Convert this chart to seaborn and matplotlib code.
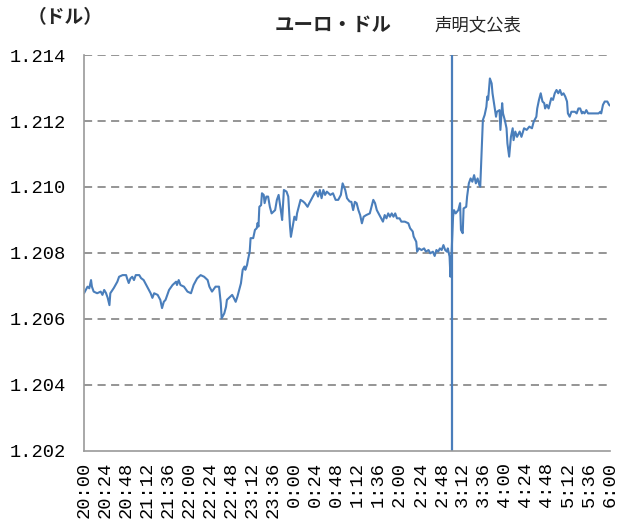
import matplotlib
matplotlib.use("Agg")
import matplotlib.pyplot as plt
import pandas as pd
import seaborn as sns

# minutes after 20:00 and EUR/USD rate
minutes = [
    0, 2, 4, 6, 8, 9, 11, 15, 19, 21, 23, 25, 27, 29, 30, 34, 38, 40, 44, 48,
    49, 51, 53, 55, 57, 59, 63, 65, 68, 72, 76, 78, 80, 84, 87, 89, 91, 93, 95, 97,
    101, 105, 106, 108, 110, 114, 118, 122, 125, 129, 133, 137, 141, 143, 146, 150, 154, 156, 157, 160,
    162, 163, 167, 169, 171, 173, 175, 177, 179, 181, 183, 184, 186, 187, 189, 190, 193, 195, 197, 198,
    199, 200, 202, 203, 205, 206, 208, 210, 212, 214, 216, 218, 220, 222, 224, 225, 226, 228, 231, 233,
    235, 236, 238, 240, 242, 243, 246, 247, 250, 252, 255, 257, 260, 263, 265, 267, 269, 271, 273, 275,
    277, 281, 284, 287, 290, 293, 295, 298, 300, 303, 305, 307, 309, 311, 313, 315, 317, 319, 322, 326,
    330, 332, 334, 336, 338, 340, 341, 343, 345, 347, 349, 351, 353, 355, 357, 360, 362, 366, 370, 372,
    375, 376, 379, 380, 382, 385, 388, 390, 393, 395, 398, 400, 402, 404, 406, 408, 410, 412, 414, 415,
    417, 418, 419, 421, 422, 424, 427, 429, 430, 432, 433, 436, 437, 439, 441, 443, 445, 447, 449, 451,
    452, 454, 455, 457, 459, 460, 461, 463, 465, 466, 468, 470, 471, 474, 475, 477, 478, 480, 482, 483,
    485, 487, 489, 490, 492, 494, 497, 499, 502, 505, 508, 511, 513, 516, 517, 519, 521, 523, 525, 526,
    528, 530, 532, 533, 535, 537, 539, 541, 543, 545, 547, 549, 551, 552, 554, 556, 560, 562, 564, 566,
    568, 569, 571, 573, 575, 579, 583, 587, 589, 590, 592, 594, 597, 599, 602,
]
rate = [
    1.20678, 1.20688, 1.20698, 1.20693, 1.20718, 1.20698, 1.20683, 1.20678, 1.20683, 1.20673,
    1.20688, 1.20679, 1.20664, 1.20642, 1.20678, 1.20694, 1.20713, 1.20728, 1.20733, 1.20733,
    1.20724, 1.20709, 1.20723, 1.20728, 1.20718, 1.20733, 1.20733, 1.20724, 1.20718, 1.20698,
    1.20678, 1.20664, 1.20678, 1.20673, 1.20658, 1.20633, 1.20652, 1.20658, 1.20673, 1.20688,
    1.20703, 1.20713, 1.20703, 1.20718, 1.20703, 1.20698, 1.20683, 1.20678, 1.20703, 1.20723,
    1.20733, 1.20728, 1.20718, 1.20698, 1.20683, 1.20698, 1.20698, 1.20648, 1.20602, 1.20617,
    1.20637, 1.20658, 1.20668, 1.20673, 1.20663, 1.20652, 1.20668, 1.20688, 1.20708, 1.20749,
    1.20759, 1.20749, 1.20764, 1.20779, 1.20804, 1.20845, 1.20845, 1.20870, 1.20875, 1.20891,
    1.20880, 1.20940, 1.20945, 1.20981, 1.20976, 1.20951, 1.20971, 1.20971, 1.20940, 1.20920,
    1.20925, 1.20930, 1.20961, 1.20976, 1.20940, 1.20920, 1.20900, 1.20991, 1.20986, 1.20971,
    1.20880, 1.20849, 1.20880, 1.20910, 1.20900, 1.20920, 1.20951, 1.20961, 1.20956, 1.20951,
    1.20940, 1.20951, 1.20966, 1.20981, 1.20986, 1.20971, 1.20991, 1.20966, 1.20991, 1.20976,
    1.20986, 1.20976, 1.20981, 1.20961, 1.20961, 1.20976, 1.21011, 1.20991, 1.20966, 1.20956,
    1.20955, 1.20930, 1.20955, 1.20951, 1.20930, 1.20915, 1.20890, 1.20910, 1.20915, 1.20920,
    1.20961, 1.20951, 1.20930, 1.20920, 1.20910, 1.20900, 1.20895, 1.20915, 1.20905, 1.20920,
    1.20910, 1.20920, 1.20910, 1.20920, 1.20905, 1.20905, 1.20895, 1.20895, 1.20890, 1.20875,
    1.20865, 1.20850, 1.20834, 1.20804, 1.20814, 1.20809, 1.20814, 1.20804, 1.20809, 1.20799,
    1.20804, 1.20791, 1.20809, 1.20804, 1.20814, 1.20809, 1.20824, 1.20809, 1.20804, 1.20814,
    1.20789, 1.20728, 1.20780, 1.20910, 1.20930, 1.20920, 1.20930, 1.20951, 1.20870, 1.20860,
    1.20935, 1.20940, 1.20971, 1.21011, 1.21026, 1.21016, 1.21036, 1.21011, 1.21026, 1.21006,
    1.21001, 1.21132, 1.21203, 1.21218, 1.21243, 1.21274, 1.21264, 1.21329, 1.21314, 1.21284,
    1.21248, 1.21213, 1.21228, 1.21233, 1.21173, 1.21254, 1.21223, 1.21203, 1.21178, 1.21132,
    1.21092, 1.21152, 1.21178, 1.21142, 1.21168, 1.21152, 1.21168, 1.21152, 1.21178, 1.21173,
    1.21183, 1.21178, 1.21198, 1.21213, 1.21238, 1.21264, 1.21284, 1.21259, 1.21254, 1.21238,
    1.21249, 1.21238, 1.21259, 1.21269, 1.21264, 1.21284, 1.21294, 1.21284, 1.21294, 1.21279,
    1.21284, 1.21274, 1.21259, 1.21223, 1.21213, 1.21228, 1.21228, 1.21223, 1.21238, 1.21238,
    1.21223, 1.21228, 1.21223, 1.21233, 1.21223, 1.21223, 1.21223, 1.21223, 1.21228, 1.21223,
    1.21249, 1.21259, 1.21259, 1.21249, 1.21243,
]

tick_labels = [
    "20:00", "20:24", "20:48", "21:12", "21:36", "22:00", "22:24", "22:48", "23:12",
    "23:36", "0:00", "0:24", "0:48", "1:12", "1:36", "2:00", "2:24", "2:48", "3:12",
    "3:36", "4:00", "4:24", "4:48", "5:12", "5:36", "6:00",
]
y_ticks = [1.202, 1.204, 1.206, 1.208, 1.210, 1.212, 1.214]
statement_minute = 420  # 3:00

df = pd.DataFrame({"minute": minutes, "rate": rate})

sns.set_theme(style="white")
plt.rcParams["font.family"] = ["Noto Sans CJK JP", "DejaVu Sans"]

fig = plt.figure(figsize=(6.28, 5.32), dpi=100)
ax = fig.add_axes([0.1338, 0.1523, 0.8375, 0.7443])

blue = "#4a7ebb"
sns.lineplot(data=df, x="minute", y="rate", ax=ax, color=blue, linewidth=1.5)
ax.axvline(statement_minute, color=blue, linewidth=1.6)

ax.set_xlim(0, 600)
ax.set_ylim(1.202, 1.214)
ax.set_xticks(range(0, 601, 24))
ax.set_xticklabels(tick_labels, rotation=90, family="Liberation Mono", fontsize=13.5)
ax.set_yticks(y_ticks)
ax.set_yticklabels([f"{v:.3f}" for v in y_ticks], family="Liberation Mono", fontsize=13.5)
ax.tick_params(axis="y", length=0, pad=13, colors="black")
ax.tick_params(axis="x", length=0, pad=8, colors="black")
ax.set_xlabel("")
ax.set_ylabel("")

for v in y_ticks[1:]:
    ax.axhline(v, color="#8c8c8c", linewidth=1.3, linestyle=(0, (4.5, 3)), zorder=0)

for side in ["top", "right"]:
    ax.spines[side].set_visible(False)
ax.spines["left"].set_color("#9a9a9a")
ax.spines["bottom"].set_color("#9a9a9a")
ax.spines["left"].set_linewidth(1.2)
ax.spines["bottom"].set_linewidth(1.2)

fig.text(0.103, 0.966, "（ドル）", ha="center", va="center", fontsize=13.5, fontweight="bold")
fig.text(0.531, 0.953, "ユーロ・ドル", ha="center", va="center", fontsize=14, fontweight="bold")
fig.text(0.761, 0.953, "声明文公表", ha="center", va="center", fontsize=12.5)

fig.savefig("out.png", dpi=100)
